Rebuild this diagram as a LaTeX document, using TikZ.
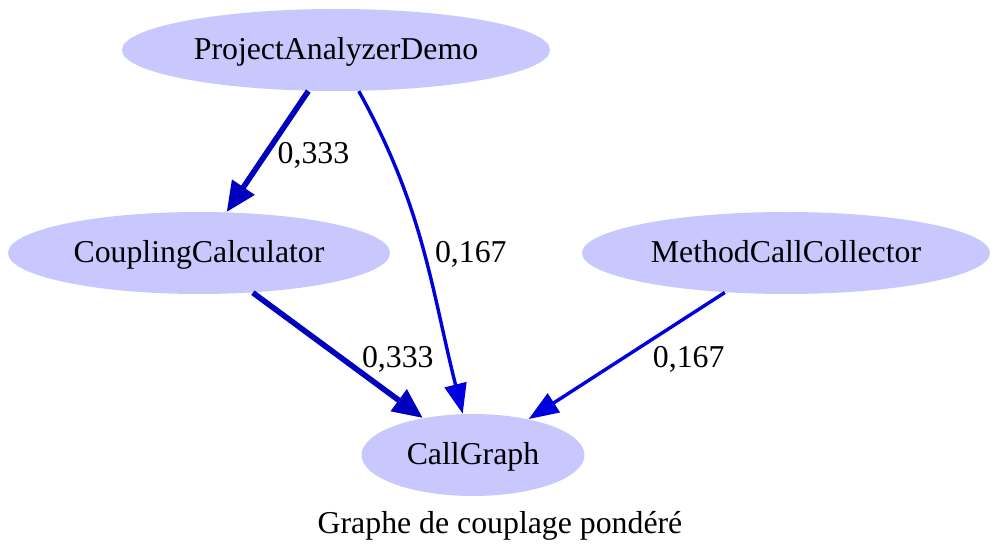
\documentclass[tikz,border=0pt]{standalone}
\usepackage{fontspec}
\setmainfont{Liberation Serif}
\usetikzlibrary{arrows.meta,shapes.geometric}

\definecolor{clsfill}{RGB}{200,200,255}
\definecolor{edgedark}{RGB}{0,0,190}
\definecolor{edgelight}{RGB}{0,0,222}

\begin{document}
\begin{tikzpicture}[
  x=0.5pt, y=-0.5pt,
  font=\fontsize{15.9}{18}\selectfont,
  cls/.style={ellipse, fill=clsfill, draw=none, inner sep=0pt, minimum height=41pt,
              text height=13pt, text depth=3.5pt},
  strong/.style={draw=edgedark, line width=2.8pt, -{Triangle[length=15pt,width=13pt]}},
  weak/.style={draw=edgelight, line width=1.7pt, -{Triangle[length=15pt,width=11pt]}},
  wlbl/.style={inner sep=0pt, text=black},
]
\useasboundingbox (0,0) rectangle (1000,560);

% ---- classes ----
\node[cls, minimum width=214pt]   (pad) at (336,50)  {ProjectAnalyzerDemo};
\node[cls, minimum width=191pt]   (cc)  at (199,253) {CouplingCalculator};
\node[cls, minimum width=204pt]   (mcc) at (786,253) {MethodCallCollector};
\node[cls, minimum width=111.5pt] (cg)  at (473,455) {CallGraph};

% ---- weighted coupling edges ----
\draw[strong] (pad) -- node[wlbl, xshift=23pt, yshift=-2pt]{0,333} (cc);
\draw[weak]   (pad) to[out=-61, in=104]
                    node[wlbl, xshift=24pt, yshift=-3.5pt]{0,167} (cg);
\draw[strong] (cc)  -- node[wlbl, xshift=30pt, yshift=-2pt]{0,333} (cg);
\draw[weak]   (mcc) -- node[wlbl, xshift=31pt, yshift=-2pt]{0,167} (cg);

% ---- caption ----
\node (caption) at (500,526) {Graphe de couplage pondéré};
\end{tikzpicture}
\end{document}
